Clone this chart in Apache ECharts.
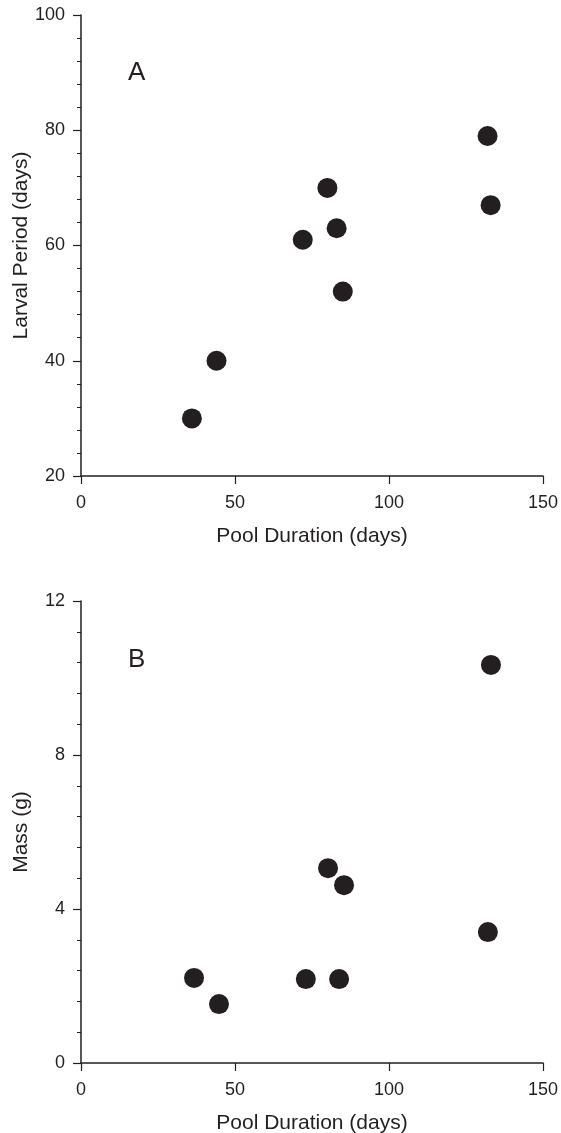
<!DOCTYPE html>
<html>
<head>
<meta charset="utf-8">
<script src="https://cdn.jsdelivr.net/npm/echarts@6/dist/echarts.min.js"></script>
<style>
  html, body { margin: 0; padding: 0; background: #fff; }
  #chart { width: 561px; height: 1133px; }
</style>
</head>
<body>
<div id="chart"></div>
<script>
  // pool duration (days) per pond
  var poolDuration = [36, 44, 72, 80, 83, 85, 132, 133];
  // panel A: larval period (days)
  var larvalPeriod = [30, 40, 61, 70, 63, 52, 79, 67];
  // panel B: mass (g), same ponds
  var massDuration = [36.7, 44.8, 73, 80.2, 83.8, 85.4, 132.1, 133.1];
  var mass = [2.21, 1.53, 2.18, 5.06, 2.18, 4.62, 3.4, 10.34];

  var ink = '#231f20';
  var font = 'Liberation Sans, Arial, sans-serif';

  function pairs(xs, ys) {
    var out = [];
    for (var i = 0; i < xs.length; i++) out.push([xs[i], ys[i]]);
    return out;
  }

  function xAxisFor(idx) {
    return {
      gridIndex: idx,
      type: 'value',
      min: 0, max: 150, interval: 50,
      name: 'Pool Duration (days)',
      nameLocation: 'middle',
      nameGap: 50,
      nameMoveOverlap: false,
      nameTextStyle: { color: ink, fontSize: 21, fontFamily: font },
      axisLine: { lineStyle: { color: ink, width: 1.5 } },
      axisTick: { length: 8, lineStyle: { color: ink, width: 1.2 } },
      axisLabel: { color: ink, fontSize: 18, fontFamily: font, margin: 18 },
      splitLine: { show: false }
    };
  }

  function yAxisFor(idx, min, max, step, title) {
    return {
      gridIndex: idx,
      type: 'value',
      min: min, max: max, interval: step,
      name: title,
      nameLocation: 'middle',
      nameGap: 49,
      nameMoveOverlap: false,
      nameTextStyle: { color: ink, fontSize: 21, fontFamily: font },
      axisLine: { lineStyle: { color: ink, width: 1.5 } },
      axisTick: { length: 8, lineStyle: { color: ink, width: 1.2 } },
      minorTick: { show: true, splitNumber: 5, length: 4, lineStyle: { color: ink, width: 1 } },
      axisLabel: { color: ink, fontSize: 18, fontFamily: font, margin: 16 },
      splitLine: { show: false },
      minorSplitLine: { show: false }
    };
  }

  var dot = { color: ink, opacity: 1 };

  var chart = echarts.init(document.getElementById('chart'), null, { renderer: 'canvas' });
  chart.setOption({
    backgroundColor: '#fff',
    animation: false,
    grid: [
      { left: 81, right: 18, top: 15, height: 461, outerBoundsMode: 'none', containLabel: false },
      { left: 81, right: 18, top: 601, height: 462, outerBoundsMode: 'none', containLabel: false }
    ],
    graphic: [
      { type: 'text', left: 128, top: 60, style: { text: 'A', fontSize: 26, fontFamily: font, fill: ink } },
      { type: 'text', left: 128, top: 647, style: { text: 'B', fontSize: 26, fontFamily: font, fill: ink } }
    ],
    xAxis: [xAxisFor(0), xAxisFor(1)],
    yAxis: [
      yAxisFor(0, 20, 100, 20, 'Larval Period (days)'),
      yAxisFor(1, 0, 12, 4, 'Mass (g)')
    ],
    series: [
      {
        type: 'scatter', xAxisIndex: 0, yAxisIndex: 0,
        symbolSize: 20, itemStyle: dot,
        data: pairs(poolDuration, larvalPeriod)
      },
      {
        type: 'scatter', xAxisIndex: 1, yAxisIndex: 1,
        symbolSize: 20, itemStyle: dot,
        data: pairs(massDuration, mass)
      }
    ]
  });
</script>
</body>
</html>
